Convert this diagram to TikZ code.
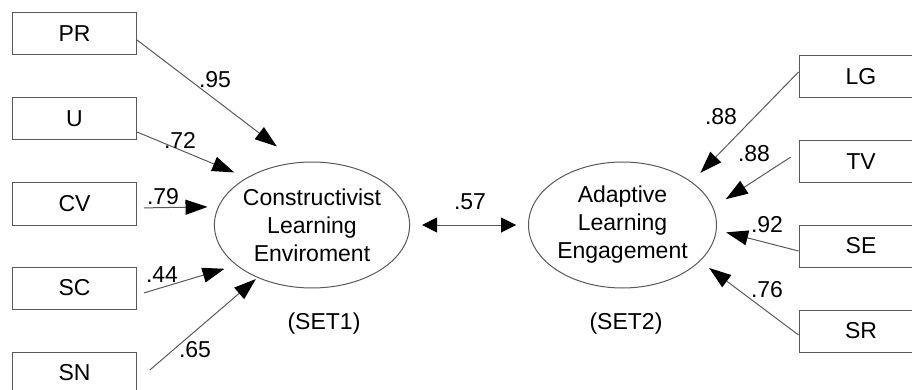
\documentclass[tikz,border=0pt]{standalone}
\usepackage{fontspec}
\setmainfont{Liberation Sans}
\usetikzlibrary{shapes.geometric,arrows.meta}
\tikzset{
  obs/.style={draw=black!65, line width=1pt, minimum width=124pt, minimum height=42pt, inner sep=0pt, font=\fontsize{23}{28}\selectfont},
  lat/.style={draw=black!65, line width=1pt, ellipse, minimum width=188pt, minimum height=126pt, inner sep=0pt, align=center, font=\fontsize{23}{28}\selectfont},
  lbl/.style={inner sep=0pt, font=\fontsize{23}{28}\selectfont},
  arr/.style={draw=black!65, line width=1pt, -{Triangle[length=22pt,width=15pt,color=black]}},
  darr/.style={draw=black!65, line width=1pt, {Triangle[length=15pt,width=15pt,color=black]}-{Triangle[length=15pt,width=15pt,color=black]}}
}
\begin{document}
\begin{tikzpicture}[x=1pt,y=-1pt]
\useasboundingbox (0,0) rectangle (912,390);
% observed boxes
\node[obs] (PR) at (74.5,34) {PR};
\node[obs] (U)  at (74.5,119) {U};
\node[obs] (CV) at (74.5,204) {CV};
\node[obs] (SC) at (74.5,288) {SC};
\node[obs] (SN) at (74.5,373) {SN};
\node[obs] (LG) at (861,76.5) {LG};
\node[obs] (TV) at (861,162) {TV};
\node[obs] (SE) at (861,246) {SE};
\node[obs] (SR) at (861,331) {SR};
% latent ellipses
\node[lat] (CLE) at (312,225) {Constructivist\\Learning\\Enviroment};
\node[lat] (ALE) at (622.5,225) {Adaptive\\Learning\\Engagement};
\node[lbl] (set1) at (324,324) {(SET1)};
\node[lbl] (set2) at (626,324) {(SET2)};
% arrows left
\draw[arr, shorten >=26pt] ([yshift=-6pt]PR.east) -- (CLE.103);
\draw[arr, shorten >=13.5pt] ([yshift=-13pt]U.east) -- (CLE.144.7);
\draw[arr, shorten <=7pt, shorten >=10.5pt] ([yshift=-4pt]CV.east) -- (CLE.169.4);
\draw[arr, shorten <=7.3pt, shorten >=12.2pt] ([yshift=-7pt]SC.east) -- (CLE.208.3);
\draw[arr, shorten <=17pt, shorten >=2pt] ([yshift=-8pt]SN.east) -- (CLE.224);
% arrows right
\draw[arr, shorten >=12.5pt] ([yshift=4.5pt]LG.west) -- (ALE.32.1);
\draw[arr, shorten <=9.5pt, shorten >=15pt] ([yshift=10pt]TV.west) -- (ALE.11.3);
\draw[arr, shorten >=9.7pt] ([yshift=-5pt]SE.west) -- (ALE.-3.5);
\draw[arr, shorten >=11.3pt] ([yshift=-4pt]SR.west) -- (ALE.-25.4);
% correlation
\draw[darr, shorten <=12pt, shorten >=12pt] (CLE.east) -- (ALE.west);
% labels
\node[lbl] (l95) at (215,80) {.95};
\node[lbl] (l72) at (180,140) {.72};
\node[lbl] (l79) at (163,197) {.79};
\node[lbl] (l44) at (162,275) {.44};
\node[lbl] (l65) at (195,350) {.65};
\node[lbl] (l57) at (470,202) {.57};
\node[lbl] (l88a) at (721,117) {.88};
\node[lbl] (l88b) at (754,154) {.88};
\node[lbl] (l92) at (767,225) {.92};
\node[lbl] (l76) at (767,290) {.76};
\end{tikzpicture}
\end{document}
